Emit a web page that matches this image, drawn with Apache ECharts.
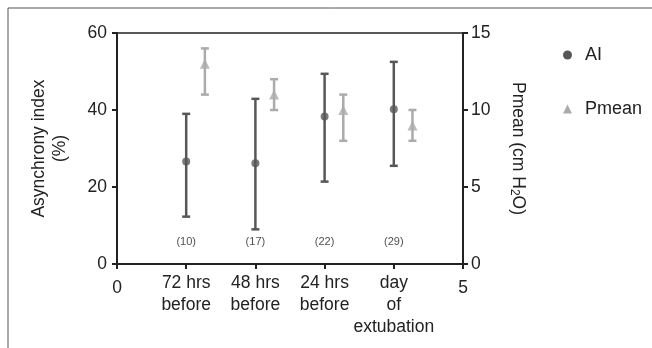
<!DOCTYPE html>
<html>
<head>
<meta charset="utf-8">
<script src="https://cdn.jsdelivr.net/npm/echarts@6/dist/echarts.min.js"></script>
<style>
  html, body { margin: 0; padding: 0; background: #fff; }
  #chart { width: 652px; height: 348px; }
</style>
</head>
<body>
<div id="chart"></div>
<script>
// categories on x = 1..4
const categories = ['72 hrs\nbefore', '48 hrs\nbefore', '24 hrs\nbefore', 'day\nof\nextubation'];
const catX = [1, 2, 3, 4];
const counts = ['(10)', '(17)', '(22)', '(29)'];

// asynchrony index (%), left axis
const aiMean = [26.6, 26.2, 38.3, 40.2];
const aiHigh = [39.0, 42.9, 49.4, 52.5];
const aiLow = [12.3, 9.0, 21.4, 25.5];

// Pmean (cm H2O), right axis
const pMean = [13.0, 11.0, 10.0, 9.0];
const pHigh = [14.0, 12.0, 11.0, 10.0];
const pLow = [11.0, 10.0, 8.0, 8.0];

const pOffset = 0.27; // Pmean drawn a bit right of each category
const countY = 5.7;

const darkGray = '#575757';
const lightGray = '#ababab';
const font = 'Liberation Sans, Arial, sans-serif';

function errorBar(color, width) {
    return function (params, api) {
        const x = api.value(0);
        const top = api.coord([x, api.value(1)]);
        const bot = api.coord([x, api.value(2)]);
        const half = 4;
        const style = { stroke: color, lineWidth: width };
        return {
            type: 'group',
            children: [
                { type: 'line', shape: { x1: top[0], y1: top[1], x2: bot[0], y2: bot[1] }, style: style },
                { type: 'line', shape: { x1: top[0] - half, y1: top[1], x2: top[0] + half, y2: top[1] }, style: style },
                { type: 'line', shape: { x1: bot[0] - half, y1: bot[1], x2: bot[0] + half, y2: bot[1] }, style: style }
            ]
        };
    };
}

const chart = echarts.init(document.getElementById('chart'));

chart.setOption({
    animation: false,
    backgroundColor: '#fff',
    textStyle: { fontFamily: font, color: '#222' },
    graphic: [{
        type: 'rect',
        shape: { x: 8, y: 8, width: 700, height: 400 },
        style: { fill: 'none', stroke: '#555', lineWidth: 1 },
        silent: true
    }],
    legend: {
        orient: 'vertical',
        left: 558,
        top: 41,
        itemGap: 36,
        itemWidth: 9,
        itemHeight: 9,
        textStyle: { fontSize: 18, color: '#222', fontFamily: font, padding: [0, 0, 0, 8] },
        data: [
            { name: 'AI', icon: 'circle' },
            { name: 'Pmean', icon: 'triangle' }
        ]
    },
    grid: {
        left: 117, right: 189, top: 33, bottom: 84,
        show: true, borderColor: '#222', borderWidth: 1.5,
        containLabel: false
    },
    xAxis: {
        type: 'value',
        min: 0, max: 5, interval: 1,
        axisLine: { show: true, lineStyle: { color: '#222', width: 2 } },
        axisTick: { show: true, inside: false, length: 5, lineStyle: { color: '#222', width: 2 } },
        splitLine: { show: false },
        axisLabel: {
            fontSize: 17.5, color: '#222', lineHeight: 22, margin: 8,
            formatter: function (v) {
                const i = catX.indexOf(v);
                return i >= 0 ? categories[i] : '{n|' + v + '}';
            },
            rich: { n: { fontSize: 17.5, padding: [10, 0, 0, 0] } }
        }
    },
    yAxis: [{
        type: 'value',
        min: 0, max: 60, interval: 20,
        name: 'Asynchrony index\n(%)',
        nameLocation: 'middle',
        nameRotate: 90,
        nameGap: 46,
        nameTextStyle: { fontSize: 17.5, color: '#222', lineHeight: 21 },
        axisLine: { show: true, lineStyle: { color: '#222', width: 2 } },
        axisTick: { show: true, length: 5, lineStyle: { color: '#222', width: 2 } },
        splitLine: { show: false },
        axisLabel: { fontSize: 17.5, color: '#222', margin: 10 }
    }, {
        type: 'value',
        min: 0, max: 15, interval: 5,
        position: 'right',
        name: 'Pmean (cm H{sub|2}O)',
        nameLocation: 'middle',
        nameRotate: -90,
        nameGap: 45,
        nameTextStyle: {
            fontSize: 17.5, color: '#222',
            rich: { sub: { fontSize: 12, verticalAlign: 'bottom', padding: [8, 0, 0, 0] } }
        },
        axisLine: { show: true, lineStyle: { color: '#222', width: 2 } },
        axisTick: { show: true, length: 5, lineStyle: { color: '#222', width: 2 } },
        splitLine: { show: false },
        axisLabel: { fontSize: 17.5, color: '#222', margin: 8 }
    }],
    series: [{
        name: 'AI',
        type: 'custom',
        yAxisIndex: 0,
        renderItem: errorBar(darkGray, 2.5),
        data: catX.map((x, i) => [x, aiHigh[i], aiLow[i]]),
        itemStyle: { color: darkGray },
        z: 2
    }, {
        name: 'AI',
        type: 'scatter',
        yAxisIndex: 0,
        symbol: 'circle',
        symbolSize: 8,
        itemStyle: { color: darkGray },
        data: catX.map((x, i) => [x, aiMean[i]]),
        z: 3
    }, {
        name: 'Pmean',
        type: 'custom',
        yAxisIndex: 1,
        renderItem: errorBar(lightGray, 2.5),
        data: catX.map((x, i) => [x + pOffset, pHigh[i], pLow[i]]),
        itemStyle: { color: lightGray },
        z: 2
    }, {
        name: 'Pmean',
        type: 'scatter',
        yAxisIndex: 1,
        symbol: 'triangle',
        symbolSize: 10,
        itemStyle: { color: lightGray },
        data: catX.map((x, i) => [x + pOffset, pMean[i]]),
        z: 3
    }, {
        name: 'counts',
        type: 'scatter',
        yAxisIndex: 0,
        symbolSize: 0,
        silent: true,
        label: {
            show: true, position: 'inside', fontSize: 11, color: '#222',
            formatter: function (p) { return counts[p.dataIndex]; }
        },
        data: catX.map(x => [x, countY])
    }]
});
</script>
</body>
</html>
